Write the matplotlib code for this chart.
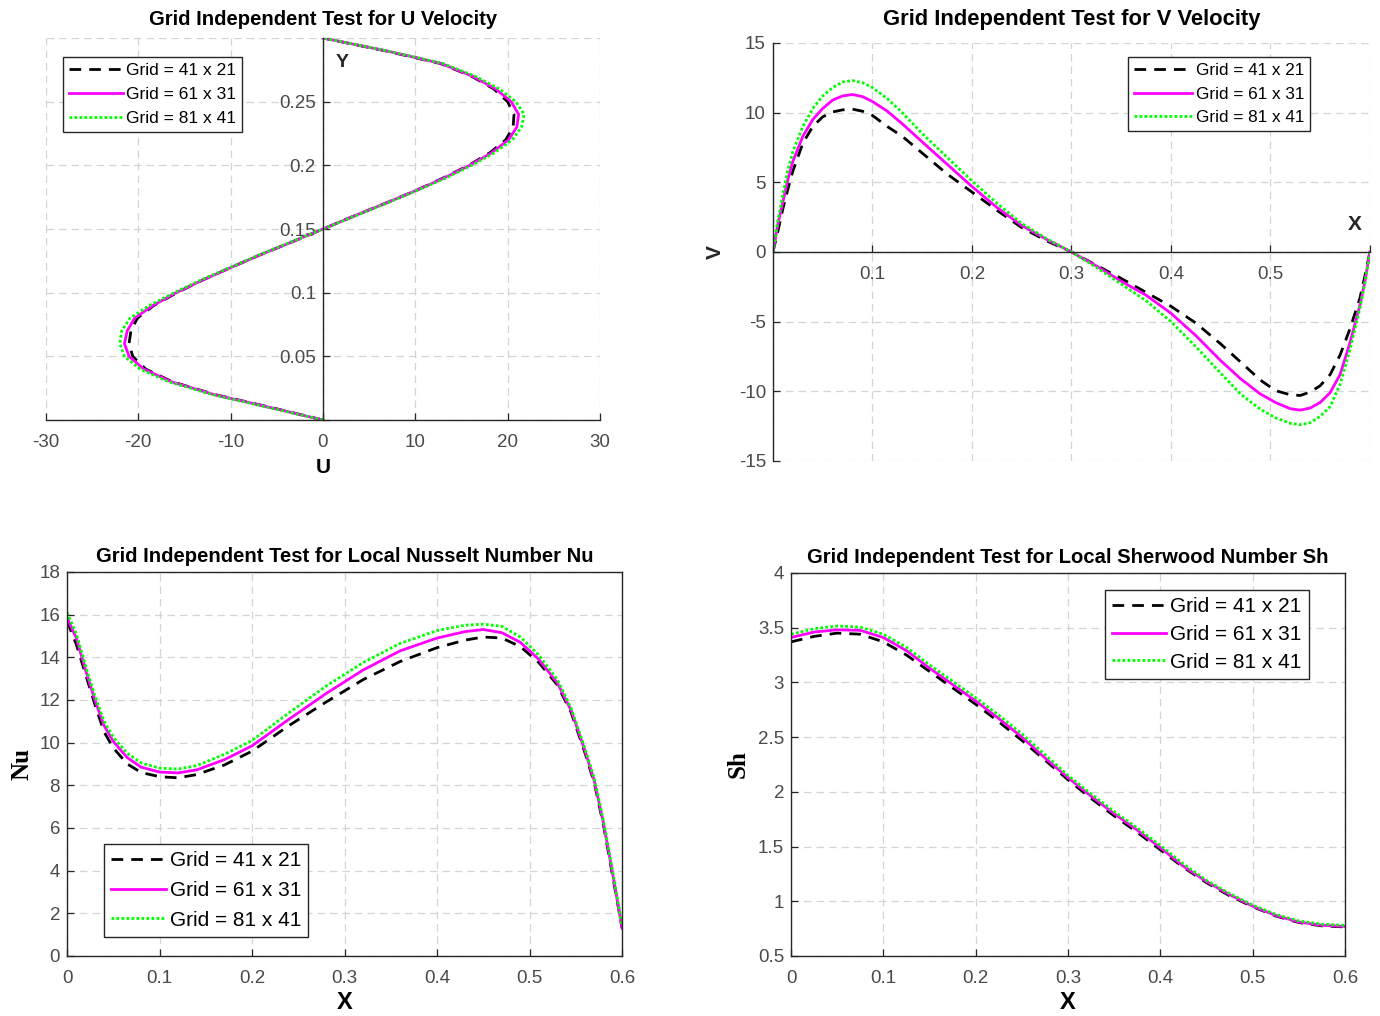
import numpy as np
import matplotlib.pyplot as plt

plt.rcParams['font.family'] = ['Liberation Sans', 'DejaVu Sans']
plt.rcParams['axes.unicode_minus'] = False

# ---- data ----
grid_labels = ["Grid = 41 x 21", "Grid = 61 x 31", "Grid = 81 x 41"]

# U velocity profile along Y
y_u = [0.00, 0.01, 0.02, 0.03, 0.04, 0.05, 0.06, 0.07, 0.08, 0.09, 0.10,
       0.11, 0.12, 0.13, 0.14, 0.15, 0.16, 0.17, 0.18, 0.19, 0.20,
       0.21, 0.22, 0.23, 0.24, 0.25, 0.26, 0.27, 0.28, 0.29, 0.30]
u_41x21 = [0, -5.7, -11.7, -16.3, -19.2, -20.6, -21.0, -20.8, -20.1, -18.3, -15.8,
           -13.0, -9.9, -6.7, -3.3, 0, 3.3, 6.7, 10.0, 13.0, 15.8,
           18.1, 19.8, 20.6, 20.7, 20.0, 18.5, 16.1, 12.7, 6.7, 0]
u_61x31 = [0, -5.8, -11.8, -16.4, -19.4, -21.0, -21.5, -21.2, -20.4, -18.4, -15.9,
           -13.0, -9.9, -6.7, -3.3, 0, 3.3, 6.7, 10.0, 13.1, 15.9,
           18.3, 20.1, 21.0, 21.2, 20.4, 18.7, 16.2, 12.8, 6.8, 0]
u_81x41 = [0, -6.0, -12.0, -16.7, -19.8, -21.5, -22.0, -21.8, -20.9, -18.8, -16.1,
           -13.2, -10.0, -6.8, -3.4, 0, 3.4, 6.8, 10.1, 13.3, 16.1,
           18.6, 20.5, 21.5, 21.8, 20.9, 19.1, 16.5, 13.0, 6.9, 0]

# V velocity along X
x_v = [0, 0.005, 0.01, 0.015, 0.02, 0.03, 0.04, 0.05, 0.06, 0.07, 0.08, 0.09,
       0.1, 0.115, 0.13, 0.15, 0.175, 0.2, 0.225, 0.25, 0.275, 0.3, 0.325,
       0.35, 0.375, 0.4, 0.425, 0.45, 0.47, 0.49, 0.505, 0.52, 0.53, 0.54,
       0.55, 0.56, 0.57, 0.58, 0.59, 0.595, 0.6]
v_41x21 = [0, 1.5, 3.1, 4.5, 5.8, 7.8, 9.0, 9.7, 10.05, 10.2, 10.25, 10.1,
           9.8, 9.0, 8.3, 7.1, 5.6, 4.3, 3.0, 1.75, 0.8, 0, -0.95,
           -1.9, -2.9, -3.9, -5.1, -6.6, -7.9, -9.2, -9.95, -10.25, -10.3, -10.05,
           -9.6, -8.8, -7.4, -5.5, -3.3, -1.7, 0]
v_61x31 = [0, 2.0, 3.6, 5.2, 6.5, 8.3, 9.5, 10.3, 10.9, 11.2, 11.3, 11.15,
           10.8, 10.1, 9.2, 7.9, 6.3, 4.7, 3.2, 1.9, 0.9, 0, -1.0,
           -2.1, -3.1, -4.4, -6.0, -7.8, -9.1, -10.2, -10.8, -11.25, -11.35, -11.2,
           -10.8, -10.1, -8.8, -6.5, -3.8, -2.1, 0]
v_81x41 = [0, 2.3, 4.1, 5.9, 7.2, 9.0, 10.3, 11.2, 11.8, 12.2, 12.3, 12.15,
           11.8, 11.0, 10.0, 8.5, 6.8, 5.1, 3.5, 2.05, 0.95, 0, -1.1,
           -2.3, -3.5, -5.0, -6.8, -8.7, -10.2, -11.3, -11.9, -12.3, -12.4, -12.25,
           -11.8, -11.1, -9.5, -7.0, -4.0, -2.2, 0]

# local Nusselt number along X
x_nu = [0, 0.01, 0.02, 0.03, 0.04, 0.05, 0.065, 0.08, 0.1, 0.12, 0.14, 0.17,
        0.2, 0.24, 0.28, 0.32, 0.36, 0.4, 0.43, 0.45, 0.47, 0.49, 0.51, 0.53,
        0.545, 0.56, 0.57, 0.58, 0.59, 0.6]
nu_41x21 = [15.7, 14.6, 13.2, 11.8, 10.5, 9.75, 9.0, 8.6, 8.4, 8.35, 8.5, 8.95,
            9.6, 10.8, 11.9, 12.95, 13.8, 14.45, 14.8, 14.95, 14.9, 14.5, 13.75, 12.7,
            11.4, 9.5, 8.1, 6.1, 3.7, 1.3]
nu_61x31 = [15.85, 14.9, 13.4, 12.0, 10.8, 10.05, 9.3, 8.85, 8.62, 8.58, 8.72, 9.2,
            9.85, 11.1, 12.3, 13.4, 14.3, 14.9, 15.2, 15.3, 15.15, 14.7, 13.9, 12.8,
            11.5, 9.6, 8.2, 6.2, 3.8, 1.3]
nu_81x41 = [16.1, 15.1, 13.6, 12.2, 11.0, 10.25, 9.5, 9.05, 8.8, 8.76, 8.92, 9.45,
            10.1, 11.4, 12.65, 13.75, 14.65, 15.25, 15.5, 15.55, 15.45, 14.95, 14.1, 12.95,
            11.6, 9.7, 8.3, 6.3, 3.9, 1.4]

# local Sherwood number along X
x_sh = [0, 0.025, 0.05, 0.075, 0.1, 0.125, 0.15, 0.175, 0.2, 0.225, 0.25, 0.275,
        0.3, 0.325, 0.35, 0.375, 0.4, 0.425, 0.45, 0.475, 0.5, 0.525, 0.55, 0.575, 0.6]
sh_41x21 = [3.37, 3.42, 3.45, 3.44, 3.37, 3.25, 3.10, 2.95, 2.80, 2.64, 2.47, 2.29,
            2.11, 1.94, 1.78, 1.63, 1.47, 1.31, 1.17, 1.05, 0.95, 0.865, 0.805, 0.775, 0.765]
sh_61x31 = [3.41, 3.46, 3.48, 3.475, 3.41, 3.29, 3.13, 2.98, 2.83, 2.67, 2.50, 2.31,
            2.13, 1.96, 1.80, 1.65, 1.49, 1.32, 1.18, 1.06, 0.955, 0.87, 0.81, 0.78, 0.77]
sh_81x41 = [3.44, 3.49, 3.515, 3.505, 3.44, 3.32, 3.16, 3.01, 2.86, 2.70, 2.53, 2.34,
            2.15, 1.98, 1.82, 1.67, 1.51, 1.34, 1.19, 1.07, 0.965, 0.88, 0.82, 0.79, 0.78]

# ---- styling ----
LW = 2.0
styles = [dict(color='black', linestyle=(0, (4.2, 2.9))),
          dict(color='#ff00ff', linestyle='-'),
          dict(color='#00ff00', linestyle=(0, (1, 0.8)))]
TICK_COLOR = '#4a4a4a'
AX_COLOR = '#262626'
GRID_KW = dict(color='#d4d4d4', linestyle=(0, (6, 4)), linewidth=0.9)


def style_axes(ax):
    ax.tick_params(direction='in', length=5, width=0.9, colors=AX_COLOR,
                   labelcolor=TICK_COLOR, labelsize=13.5)
    ax.tick_params(axis='x', pad=10)
    ax.tick_params(axis='y', pad=5)
    for s in ax.spines.values():
        s.set_color(AX_COLOR)
        s.set_linewidth(1.0)
    ax.grid(True, **GRID_KW)
    ax.set_axisbelow(True)


def add_legend(ax, loc, anchor, size, hlen, spacing):
    leg = ax.legend(grid_labels, loc=loc, bbox_to_anchor=anchor, fontsize=size,
                    handlelength=hlen, handletextpad=0.2, borderpad=0.35,
                    labelspacing=spacing, borderaxespad=0, fancybox=False,
                    framealpha=1, edgecolor=AX_COLOR)
    leg.get_frame().set_linewidth(1.0)


fig = plt.figure(figsize=(13.8, 10.16), dpi=100)

# ---- U velocity ----
ax1 = fig.add_axes([0.0333, 0.5866, 0.4014, 0.376])
for u, st in zip([u_41x21, u_61x31, u_81x41], styles):
    ax1.plot(u, y_u, lw=LW, **st)
ax1.set_xlim(-30, 30)
ax1.set_ylim(0, 0.3)
ax1.spines['left'].set_position(('data', 0))
ax1.spines['top'].set_visible(False)
ax1.spines['right'].set_visible(False)
ax1.set_xticks([-30, -20, -10, 0, 10, 20, 30])
ax1.set_yticks([0, 0.05, 0.1, 0.15, 0.2, 0.25, 0.3])
ax1.set_yticklabels(['', '0.05', '0.1', '0.15', '0.2', '0.25', ''])
style_axes(ax1)
ax1.set_title("Grid Independent Test for U Velocity", fontsize=14.6,
              fontweight='bold', pad=9)
ax1.set_xlabel("U", fontsize=15, fontweight='bold', labelpad=5)
ax1.text(0.535, 0.935, "Y", transform=ax1.transAxes, fontsize=14,
         fontweight='bold', ha='center', va='center', color=AX_COLOR)
add_legend(ax1, 'upper left', (0.0307, 0.950), 12.5, 3.1, 0.5)

# ---- V velocity ----
ax2 = fig.add_axes([0.5601, 0.5463, 0.4326, 0.4114])
for v, st in zip([v_41x21, v_61x31, v_81x41], styles):
    ax2.plot(x_v, v, lw=LW, **st)
ax2.set_xlim(0, 0.6)
ax2.set_ylim(-15, 15)
ax2.spines['bottom'].set_position(('data', 0))
ax2.spines['top'].set_visible(False)
ax2.spines['right'].set_visible(False)
ax2.set_xticks([0, 0.1, 0.2, 0.3, 0.4, 0.5, 0.6])
ax2.set_xticklabels(['', '0.1', '0.2', '0.3', '0.4', '0.5', ''])
ax2.set_yticks([-15, -10, -5, 0, 5, 10, 15])
style_axes(ax2)
ax2.set_title("Grid Independent Test for V Velocity", fontsize=15.8,
              fontweight='bold', pad=13)
ax2.text(0.975, 0.565, "X", transform=ax2.transAxes, fontsize=15,
         fontweight='bold', ha='center', va='center', color=AX_COLOR)
ax2.text(-0.097, 0.5, "V", transform=ax2.transAxes, fontsize=15,
         fontweight='bold', ha='center', va='center', rotation=90, color=AX_COLOR)
add_legend(ax2, 'upper right', (0.8995, 0.9665), 12.3, 3.4, 0.5)

# ---- Nusselt ----
ax3 = fig.add_axes([0.0486, 0.0591, 0.4022, 0.378])
for n, st in zip([nu_41x21, nu_61x31, nu_81x41], styles):
    ax3.plot(x_nu, n, lw=LW, **st)
ax3.set_xlim(0, 0.6)
ax3.set_ylim(0, 18)
ax3.set_xticks([0, 0.1, 0.2, 0.3, 0.4, 0.5, 0.6])
ax3.set_xticklabels(['0', '0.1', '0.2', '0.3', '0.4', '0.5', '0.6'])
ax3.set_yticks(np.arange(0, 19, 2))
style_axes(ax3)
ax3.set_title("Grid Independent Test for Local Nusselt Number Nu", fontsize=14.6,
              fontweight='bold', pad=7)
ax3.set_xlabel("X", fontsize=17, fontweight='bold', labelpad=3)
ax3.set_ylabel("Nu", fontsize=18, fontweight='bold', labelpad=4,
               family=['Liberation Serif', 'DejaVu Serif'])
add_legend(ax3, 'lower left', (0.0667, 0.0495), 15.0, 2.6, 0.52)

# ---- Sherwood ----
ax4 = fig.add_axes([0.5732, 0.0591, 0.4014, 0.377])
for s, st in zip([sh_41x21, sh_61x31, sh_81x41], styles):
    ax4.plot(x_sh, s, lw=LW, **st)
ax4.set_xlim(0, 0.6)
ax4.set_ylim(0.5, 4)
ax4.set_xticks([0, 0.1, 0.2, 0.3, 0.4, 0.5, 0.6])
ax4.set_xticklabels(['0', '0.1', '0.2', '0.3', '0.4', '0.5', '0.6'])
ax4.set_yticks([0.5, 1, 1.5, 2, 2.5, 3, 3.5, 4])
ax4.set_yticklabels(['0.5', '1', '1.5', '2', '2.5', '3', '3.5', '4'])
style_axes(ax4)
ax4.set_title("Grid Independent Test for Local Sherwood Number Sh", fontsize=14.6,
              fontweight='bold', pad=7)
ax4.set_xlabel("X", fontsize=17, fontweight='bold', labelpad=3)
ax4.set_ylabel("Sh", fontsize=18, fontweight='bold', labelpad=6,
               family=['Liberation Serif', 'DejaVu Serif'])
add_legend(ax4, 'upper right', (0.935, 0.9556), 15.0, 2.6, 0.42)

fig.savefig("out.png", dpi=100)
